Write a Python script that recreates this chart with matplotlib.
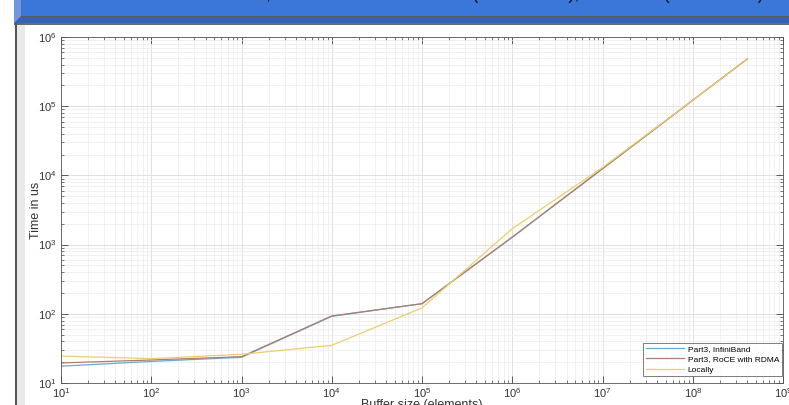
import matplotlib
matplotlib.use("Agg")
import matplotlib.pyplot as plt
from matplotlib.patches import Rectangle, Polygon
from matplotlib.ticker import LogLocator, NullFormatter

plt.rcParams['font.family'] = ['Liberation Sans', 'DejaVu Sans']
plt.rcParams['mathtext.fontset'] = 'custom'
plt.rcParams['mathtext.rm'] = 'Liberation Sans'
plt.rcParams['mathtext.it'] = 'Liberation Sans'

# Buffer sizes (elements) and measured times (us)
buffer_sizes = [1e1, 1e2, 1e3, 1e4, 1e5, 1e6, 1e7, 1e8, 4e8]
infiniband = [17.5, 20.5, 23.5, 92, 140, 1280, 12500, 122000, 480000]
roce_rdma = [19.5, 21.5, 24, 93, 140, 1280, 12500, 122000, 480000]
locally = [24.5, 22.5, 26, 35, 122, 1700, 13000, 122000, 480000]
series_labels = ["Part3, InfiniBand", "Part3, RoCE with RDMA", "Locally"]

W, H = 789, 405
fig = plt.figure(figsize=(W / 100, H / 100), dpi=100)


def px_rect(x0, y0, x1, y1, color, z=0):
    fig.add_artist(Rectangle((x0 / W, 1 - y1 / H), (x1 - x0) / W, (y1 - y0) / H,
                             transform=fig.transFigure, facecolor=color,
                             edgecolor='none', zorder=z))


# slide header band
px_rect(14, 0, W, 15.5, '#3a77d8')
px_rect(14, 15.5, W, 17, '#5a5a5a')
px_rect(14, 17, W, 23, '#3562b4')
px_rect(14, 23, W, 25, '#6a6a6a')
fig.add_artist(Polygon([(14 / W, 1), (21 / W, 1), (21 / W, 1 - 16 / H), (14 / W, 1 - 23 / H)],
                       closed=True, transform=fig.transFigure, facecolor='#6f98e0',
                       edgecolor='none', zorder=1))
# frame border on the left
px_rect(14.5, 23, 17, H, '#555555')
px_rect(17, 25, 25, H, '#e9e9e9')

fig.text(165 / W, 1 + 1.0 / H,
         "Part3 results, InfiniBand versus RoCE (with RDMA), Local run (no network)",
         ha='left', va='baseline', fontsize=13, color='#111111', zorder=3)

ax = fig.add_axes([61 / W, 1 - 383 / H, (783 - 61) / W, (383 - 37) / H])
colors = ['#6aa9d6', '#ad7e6c', '#f0cd6a']
ax.plot(buffer_sizes, infiniband, color=colors[0], lw=0.9, label=series_labels[0])
ax.plot(buffer_sizes, roce_rdma, color=colors[1], lw=0.9, label=series_labels[1])
ax.plot(buffer_sizes, locally, color=colors[2], lw=0.9, label=series_labels[2])

ax.set_xscale('log')
ax.set_yscale('log')
ax.set_xlim(1e1, 1e9)
ax.set_ylim(1e1, 1e6)
ax.xaxis.set_major_locator(LogLocator(base=10, numticks=20))
ax.yaxis.set_major_locator(LogLocator(base=10, numticks=20))
ax.xaxis.set_minor_locator(LogLocator(base=10, subs=range(2, 10), numticks=100))
ax.yaxis.set_minor_locator(LogLocator(base=10, subs=range(2, 10), numticks=100))
ax.xaxis.set_minor_formatter(NullFormatter())
ax.yaxis.set_minor_formatter(NullFormatter())

ax.grid(True, which='major', color='#dcdcdc', lw=0.6)
ax.grid(True, which='minor', color='#ececec', lw=0.5)
ax.set_axisbelow(True)
ax.tick_params(which='both', direction='in', top=True, right=True,
               color='#444444', labelsize=8, labelcolor='#333333')
ax.tick_params(axis='x', which='major', pad=2.5)
ax.tick_params(which='major', length=5, width=0.6)
ax.tick_params(which='minor', length=2.5, width=0.5)
for s in ax.spines.values():
    s.set_color('#555555')
    s.set_linewidth(0.6)

ax.set_xlabel("Buffer size (elements)", fontsize=9, color='#333333', labelpad=-1)
ax.set_ylabel("Time in us", fontsize=9, color='#333333', labelpad=-3)

leg = ax.legend(loc='lower right', bbox_to_anchor=(0.998, 0.02), fontsize=6,
                frameon=True, fancybox=False, handlelength=4.6, borderpad=0.3,
                labelspacing=0.3, borderaxespad=0.0, handletextpad=0.4)
leg.get_frame().set_edgecolor('#444444')
leg.get_frame().set_linewidth(0.6)
for line in leg.get_lines():
    line.set_linewidth(0.9)

fig.savefig("out.png", dpi=100)
